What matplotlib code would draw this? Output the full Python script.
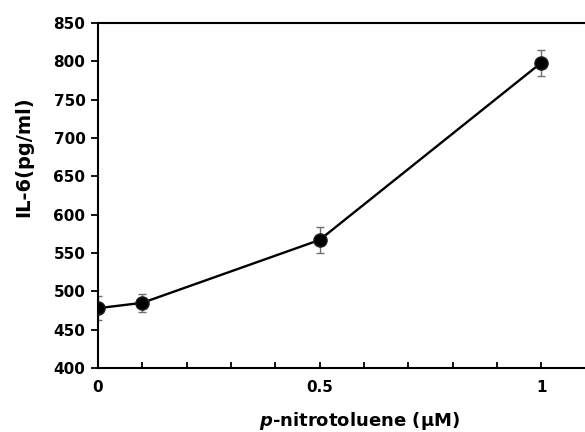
import numpy as np
import matplotlib
matplotlib.use("Agg")
import matplotlib.pyplot as plt
from matplotlib.ticker import MultipleLocator

# data
concentrations = [0.0, 0.1, 0.5, 1.0]
il6_values = [478, 485, 567, 798]
il6_errors = [16, 12, 17, 17]

y_ticks = [400, 450, 500, 550, 600, 650, 700, 750, 800, 850]
x_ticks = [0, 0.5, 1]
x_ticklabels = ["0", "0.5", "1"]

font = {'family': 'DejaVu Sans', 'weight': 'bold', 'size': 11}
matplotlib.rc('font', **font)

fig = plt.figure(figsize=(5.85, 4.32), dpi=100)
ax = fig.add_axes([98 / 585, 64 / 432, 487 / 585, 345 / 432])

# error bars (grey) then the line with markers
ax.errorbar(concentrations, il6_values, yerr=il6_errors, fmt="none",
            ecolor="#707070", elinewidth=1, capsize=3, capthick=1, zorder=2)
ax.plot(concentrations, il6_values, color="black", linewidth=1.7,
        marker="o", markersize=9.5, markerfacecolor="black",
        markeredgecolor="#202020", zorder=3)

# axes
ax.set_xlim(0, 1.099)
ax.set_ylim(400, 850)
ax.set_yticks(y_ticks)
ax.set_xticks(x_ticks)
ax.set_xticklabels(x_ticklabels)
ax.xaxis.set_minor_locator(MultipleLocator(0.1))

ax.spines["right"].set_visible(False)
for side in ["left", "bottom", "top"]:
    ax.spines[side].set_linewidth(1.5)

ax.tick_params(axis="y", direction="out", length=5, width=1.3, pad=4, labelsize=11)
ax.tick_params(axis="x", which="major", direction="in", length=4, width=1.3, pad=9, labelsize=11)
ax.tick_params(axis="x", which="minor", direction="in", length=4, width=1.3)

ax.set_xlabel(r"$\bf{\it{p}}$-nitrotoluene (µM)", fontsize=13, fontweight="bold")
ax.set_ylabel("IL-6(pg/ml)", fontsize=14, fontweight="bold")
# label positions (axes fraction)
ax.xaxis.set_label_coords((359 - 98) / 487, -(410 - 368) / 345)
ax.yaxis.set_label_coords(-(98 - 33) / 487, (368 - 157) / 345)

plt.savefig("out.png", dpi=100)
